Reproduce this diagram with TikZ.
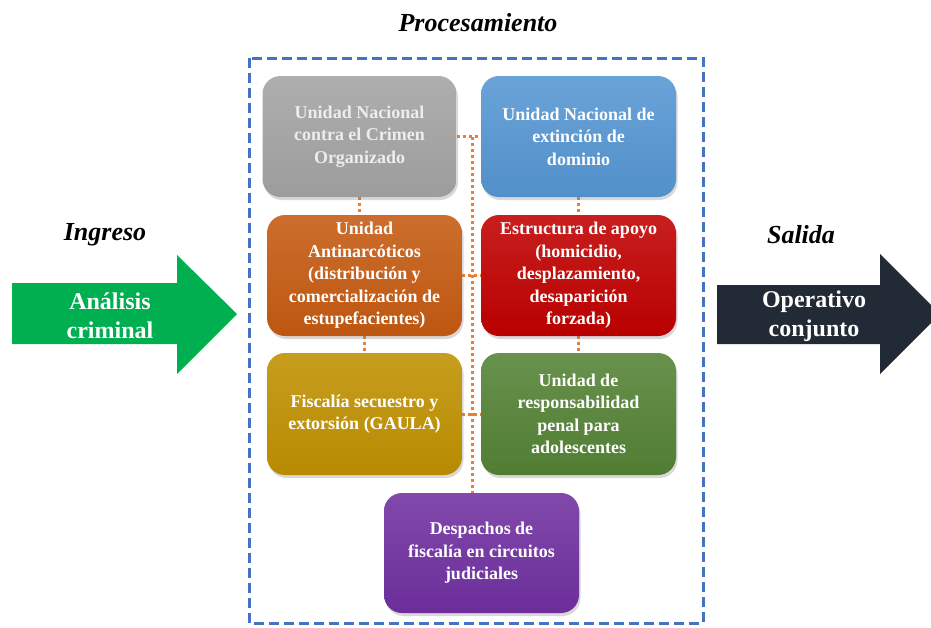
\documentclass[tikz,border=0pt]{standalone}
\usepackage{fontspec}
\setmainfont{Liberation Serif}
\usetikzlibrary{shadows,backgrounds}
\definecolor{cgray}{HTML}{A3A3A3}
\definecolor{cblue}{HTML}{5596D2}
\definecolor{corng}{HTML}{C55A11}
\definecolor{cred}{HTML}{C00000}
\definecolor{cyell}{HTML}{BF9000}
\definecolor{cgreen}{HTML}{548235}
\definecolor{cpurp}{HTML}{7030A0}
\definecolor{clink}{HTML}{ED7D31}
\definecolor{cframe}{HTML}{4472C4}
\definecolor{carrowg}{HTML}{00B050}
\definecolor{carrowd}{HTML}{222A35}
\begin{document}
\begin{tikzpicture}[x=1pt,y=-1pt,
  box/.style={rounded corners=18pt, minimum width=195pt, minimum height=121pt,
    text=white, font=\fontsize{18}{22.5}\selectfont\bfseries, align=center, inner sep=0pt,
    top color=#1!88!white, bottom color=#1!96!black, draw=none,
    drop shadow={opacity=0.3, shadow xshift=1.5pt, shadow yshift=-3pt}},
  link/.style={draw=clink, line width=3pt, dash pattern=on 3pt off 3pt},
  frame/.style={draw=cframe, line width=3pt, dash pattern=on 10pt off 5pt},
  title/.style={font=\fontsize{26}{30}\selectfont\bfseries\itshape},
  arrowtext/.style={text=white, font=\fontsize{24}{29}\selectfont\bfseries, align=center}]
\clip (0,0) rectangle (931,627);

% frame and titles
\draw[frame] (249,58) rectangle (703,623);
\node[title] (proc) at (478,23) {Procesamiento};
\node[title] (ing) at (105,235) {Ingreso};
\node[title] (sal) at (801,235) {Salida};

% arrows
\fill[carrowg] (12,283) -- (177,283) -- (177,255) -- (237,314) -- (177,374) -- (177,344) -- (12,344) -- cycle;
\node[arrowtext] (an) at (110,316) {Análisis\\criminal};
\fill[carrowd] (717,285) -- (880,285) -- (880,254) -- (940,314) -- (880,374) -- (880,344) -- (717,344) -- cycle;
\node[arrowtext] (op) at (814,316) {Operativo\\conjunto};

% boxes
\node[box=cgray, text=white!93!black, minimum width=194pt] (gray) at (359.5,136.5) {Unidad Nacional\\contra el Crimen\\Organizado};
\node[box=cblue] (blue) at (578.5,136.5) {Unidad Nacional de\\extinción de\\dominio};
\node[box=corng] (orng) at (364.5,275.5) {Unidad\\Antinarcóticos\\(distribución y\\comercialización de\\estupefacientes)};
\node[box=cred] (red) at (578.5,275.5) {Estructura de apoyo\\(homicidio,\\desplazamiento,\\desaparición\\forzada)};
\node[box=cyell, minimum height=122pt] (yell) at (364.5,414) {Fiscalía secuestro y\\extorsión (GAULA)};
\node[box=cgreen, minimum height=122pt] (green) at (578.5,414) {Unidad de\\responsabilidad\\penal para\\adolescentes};
\node[box=cpurp, minimum height=120pt] (purp) at (481.5,553) {Despachos de\\fiscalía en circuitos\\judiciales};

% connectors (behind boxes)
\begin{scope}[on background layer]
\fill[white] (0,0) rectangle (931,627);
\coordinate (vtop) at (472,136.5);
\draw[link] (vtop) -- (vtop |- purp.north);
\draw[link] (gray.east) -- (blue.west);
\draw[link] (gray.south) -- (gray.south |- orng.north);
\draw[link] (blue.south) -- (red.north);
\draw[link] (orng.east) -- (red.west);
\draw[link] (orng.south) -- (yell.north);
\draw[link] (red.south) -- (green.north);
\draw[link] (yell.east) -- (green.west);
\end{scope}
\end{tikzpicture}
\end{document}
